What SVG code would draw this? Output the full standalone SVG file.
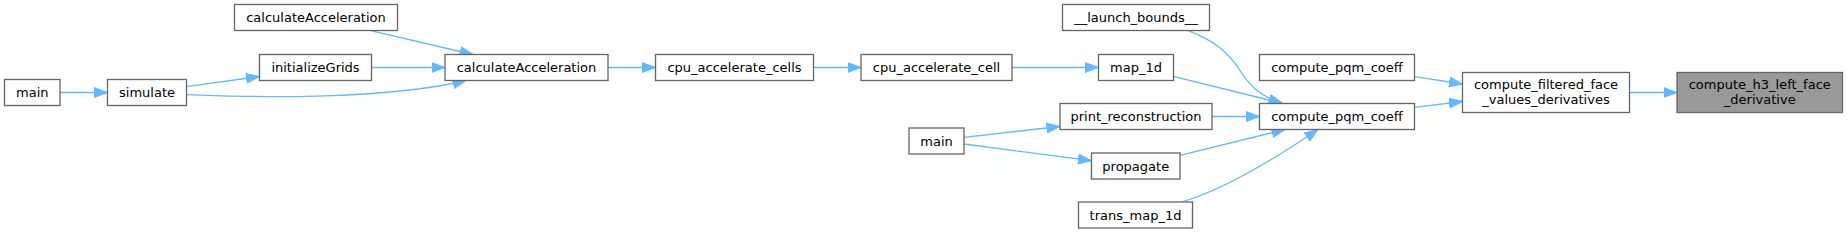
<svg xmlns="http://www.w3.org/2000/svg" width="1848" height="233" viewBox="0 0 1848 233">
<style>
.n rect{fill:#ffffff;stroke:#666666;stroke-width:1.3}
.n.h rect{fill:#999999}
.n text{font-family:"DejaVu Sans","Liberation Sans",sans-serif;font-size:13px;fill:#000000;text-anchor:middle}
.e path{fill:none;stroke:#63b8ff;stroke-width:1.3;marker-end:url(#ah)}
</style>
<defs>
<marker id="ah" markerUnits="userSpaceOnUse" markerWidth="14" markerHeight="11" refX="13.5" refY="5" orient="auto" viewBox="0 0 14 10">
<path d="M0,0 L13.5,5 L0,10 z" fill="#63b8ff" stroke="#63b8ff" stroke-width="1"/>
</marker>
</defs>
<rect width="1848" height="233" fill="#ffffff"/>
<g id="edges" class="e">
<path d="M60,92.5 L107.5,92.5"/>
<path d="M186.7,86.7 L259.5,76.5"/>
<path d="M186.7,94.7 C260,98 390,99 466,80.5"/>
<path d="M371.5,67.5 L445,67.5"/>
<path d="M370.7,30.7 L473,54.5"/>
<path d="M608,67.5 L655.5,67.5"/>
<path d="M813.5,67.5 L861,67.5"/>
<path d="M1012,67.5 L1098.5,67.5"/>
<path d="M964,137.3 L1060,126.5"/>
<path d="M964,144 L1091.5,160.7"/>
<path d="M1188.3,30.7 C1215,41 1229,53 1241,72 C1251,88 1263,97 1282,103.5"/>
<path d="M1173.3,76.3 L1283,103.5"/>
<path d="M1212,116.5 L1259.5,116.5"/>
<path d="M1180,155.3 L1285,129.5"/>
<path d="M1181.7,202 C1220,191 1270,162 1318,129.5"/>
<path d="M1414.5,76.7 L1462.5,84"/>
<path d="M1414.5,107.3 L1462.5,101.5"/>
<path d="M1629.5,92.5 L1677,92.5"/>
</g>
<g id="node_main1" class="n"><rect x="4.5" y="79.5" width="55.5" height="26"/><text x="32.25" y="97">main</text></g>
<g id="node_simulate" class="n"><rect x="107.5" y="79.5" width="79" height="26"/><text x="147" y="97">simulate</text></g>
<g id="node_initializeGrids" class="n"><rect x="259.5" y="54.5" width="112" height="26"/><text x="315.5" y="72">initializeGrids</text></g>
<g id="node_calcAccTop" class="n"><rect x="234.5" y="4.5" width="163" height="26"/><text x="316" y="22">calculateAcceleration</text></g>
<g id="node_calcAcc" class="n"><rect x="445" y="54.5" width="163" height="26"/><text x="526.5" y="72">calculateAcceleration</text></g>
<g id="node_cpu_cells" class="n"><rect x="655.5" y="54.5" width="158" height="26"/><text x="734.5" y="72">cpu_accelerate_cells</text></g>
<g id="node_cpu_cell" class="n"><rect x="861" y="54.5" width="151" height="26"/><text x="936.5" y="72">cpu_accelerate_cell</text></g>
<g id="node_map_1d" class="n"><rect x="1098.5" y="54.5" width="75" height="26"/><text x="1136" y="72">map_1d</text></g>
<g id="node_launch_bounds" class="n"><rect x="1062.5" y="4.5" width="147" height="26"/><text x="1136" y="22">__launch_bounds__</text></g>
<g id="node_print_reconstruction" class="n"><rect x="1060" y="103.5" width="152" height="26"/><text x="1136" y="121">print_reconstruction</text></g>
<g id="node_main2" class="n"><rect x="909" y="128" width="55" height="26"/><text x="936.5" y="145.5">main</text></g>
<g id="node_propagate" class="n"><rect x="1091.5" y="153" width="88.5" height="26"/><text x="1135.75" y="170.5">propagate</text></g>
<g id="node_trans_map_1d" class="n"><rect x="1078.5" y="202" width="114" height="26"/><text x="1135.5" y="219.5">trans_map_1d</text></g>
<g id="node_pqm_upper" class="n"><rect x="1259.5" y="54.5" width="155" height="26"/><text x="1337" y="72">compute_pqm_coeff</text></g>
<g id="node_pqm_main" class="n"><rect x="1259.5" y="103.5" width="155" height="26"/><text x="1337" y="121">compute_pqm_coeff</text></g>
<g id="node_filtered" class="n"><rect x="1462.5" y="72.5" width="167" height="40"/><text x="1546" y="88.5">compute_filtered_face</text><text x="1546" y="103.5">_values_derivatives</text></g>
<g id="node_h3" class="n h"><rect x="1677" y="72.5" width="165.5" height="40"/><text x="1759.75" y="88.5">compute_h3_left_face</text><text x="1759.75" y="103.5">_derivative</text></g>
</svg>
